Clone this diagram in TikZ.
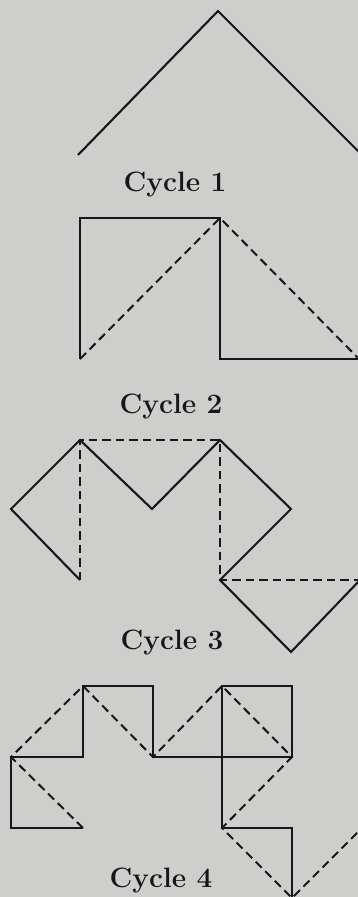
\documentclass[tikz,border=0pt]{standalone}
\usetikzlibrary{positioning}

\definecolor{paper}{RGB}{206,206,204}
\definecolor{ink}{RGB}{24,22,22}

\begin{document}
\begin{tikzpicture}[
  x=1pt, y=-1pt,
  fold/.style={draw=ink, line width=2.1pt, line join=miter},
  crease/.style={draw=ink, line width=2pt, dash pattern=on 8.5pt off 5pt},
  caption/.style={text=ink, font=\fontsize{28}{32}\selectfont\bfseries, inner sep=0pt}
]
  \fill[paper] (0,0) rectangle (358,897);
  \useasboundingbox (0,0) rectangle (358,897);
  \clip (0,0) rectangle (358,897);

  % cycle 1
  \draw[fold] (78,155) -- (218,11) -- (360,153);
  \node[caption] (cap1) at (175,185) {Cycle 1};

  % cycle 2
  \draw[crease] (80,359) -- (220,218) -- (360,360);
  \draw[fold] (80,359) -- (80,218) -- (220,218) -- (220,359) -- (360,359);
  \node[caption] (cap2) at (171,407) {Cycle 2};

  % cycle 3
  \draw[crease] (80,580) -- (80,440) -- (220,440) -- (220,580) -- (360,580);
  \draw[fold] (80,580) -- (11,509) -- (80,440) -- (152,509) -- (220,440)
    -- (291,509) -- (220,580) -- (291,652) -- (360,580);
  \node[caption] (cap3) at (172,643) {Cycle 3};

  % cycle 4
  \draw[crease] (83,828) -- (11,757) -- (83,686) -- (153,757) -- (222,686)
    -- (292,757) -- (222,828) -- (292,898) -- (362,828);
  \draw[fold] (83,828) -- (11,828) -- (11,757) -- (83,757) -- (83,686)
    -- (153,686) -- (153,757) -- (222,757) -- (222,686) -- (292,686)
    -- (292,757) -- (222,757) -- (222,828) -- (292,828) -- (292,898);
  \node[caption] (cap4) at (161,881) {Cycle 4};
\end{tikzpicture}
\end{document}
